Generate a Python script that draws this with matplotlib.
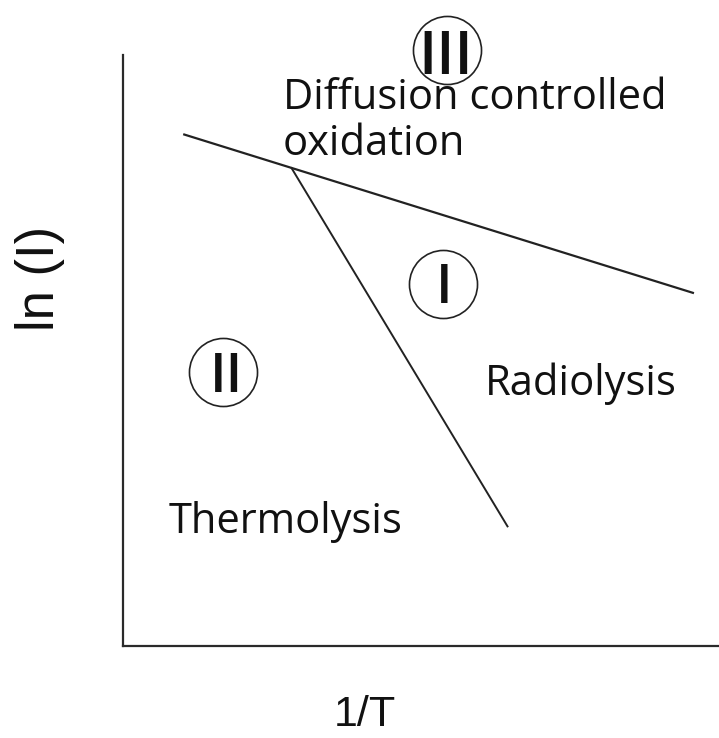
import matplotlib
matplotlib.use("Agg")
import matplotlib.pyplot as plt

# Schematic data (abstract units, x: 1/T, y: ln(I))
line_diffusion_x = [1.01, 9.58]
line_diffusion_y = [8.66, 5.97]
line_boundary_x = [2.82, 6.46]
line_boundary_y = [8.10, 2.01]

region_labels = ["III", "I", "II"]
region_cx = [5.44, 5.37, 1.68]
region_cy = [10.08, 6.13, 4.64]
numeral_x = [5.42, 5.39, 1.73]
numeral_y = [9.68, 5.80, 4.30]
numeral_size = [43, 39, 39]

text_labels = ["Diffusion controlled\noxidation", "Radiolysis", "Thermolysis"]
text_x = [2.68, 6.07, 0.77]
text_y = [8.31, 4.25, 1.91]

W, H = 719, 738
fig = plt.figure(figsize=(W / 100, H / 100), dpi=100)
fig.patch.set_facecolor("white")
ax = fig.add_axes([123 / W, (H - 646) / H, (W - 123) / W, (646 - 55) / H])
ax.set_xlim(0, 10)
ax.set_ylim(0, 10)
for s in ["top", "right"]:
    ax.spines[s].set_visible(False)
for s in ["left", "bottom"]:
    ax.spines[s].set_linewidth(1.6)
    ax.spines[s].set_color("#2a2a2a")
ax.set_xticks([])
ax.set_yticks([])

lc = "#222222"
ax.plot(line_diffusion_x, line_diffusion_y, color=lc, lw=1.6, solid_capstyle="butt")
ax.plot(line_boundary_x, line_boundary_y, color=lc, lw=1.4, solid_capstyle="butt")

ax.plot(region_cx, region_cy, "o", ms=49, mfc="none", mec=lc, mew=1.2, clip_on=False)
for lab, x, y, fs in zip(region_labels, numeral_x, numeral_y, numeral_size):
    ax.text(x, y, lab, fontsize=fs, family="Open Sans", weight="semibold",
            ha="center", va="baseline", color="#111111", clip_on=False)

for lab, x, y in zip(text_labels, text_x, text_y):
    ax.text(x, y, lab, fontsize=30, family="Open Sans", ha="left", va="baseline",
            linespacing=1.12, color="#111111", clip_on=False)

fig.text(40 / W, 1 - 278 / H, "ln (I)", rotation=90, fontsize=38,
         family="Liberation Sans", ha="center", va="center", color="#111111")
fig.text(365 / W, 1 - 695 / H, "1/T", fontsize=31,
         family="Liberation Sans", ha="center", va="top", color="#111111")

fig.savefig("out.png", dpi=100, facecolor="white")
